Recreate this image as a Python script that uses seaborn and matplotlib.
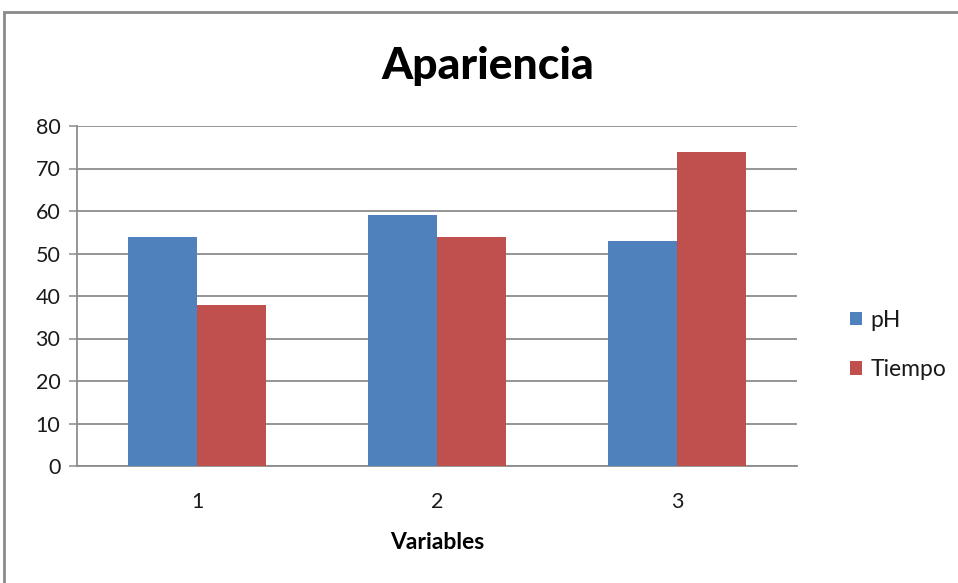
import matplotlib
matplotlib.use("Agg")
import matplotlib.pyplot as plt
from matplotlib.patches import Patch, Rectangle
import seaborn as sns
import pandas as pd

# Data
variables = ["1", "2", "3"]
ph = [54, 59, 53]
tiempo = [38, 54, 74]
series = ["pH", "Tiempo"]
colors = ["#4F81BD", "#C0504D"]
y_ticks = [0, 10, 20, 30, 40, 50, 60, 70, 80]

df = pd.DataFrame({
    "Variable": variables * 2,
    "Serie": ["pH"] * len(variables) + ["Tiempo"] * len(variables),
    "Valor": ph + tiempo,
})

sns.set_style("white")
plt.rcParams["font.family"] = ["Lato", "DejaVu Sans"]

W, H = 958, 583
fig = plt.figure(figsize=(W / 100, H / 100), dpi=100)
ax = fig.add_axes([77 / W, (H - 466) / H, 720 / W, 340 / H])

sns.barplot(data=df, x="Variable", y="Valor", hue="Serie", order=variables,
            hue_order=series, palette=colors, width=0.575, gap=0,
            saturation=1, errorbar=None, ax=ax, legend=False, zorder=3,
            linewidth=0)

grid_col = "#8C8C8C"
text_col = "#1a1a1a"
ax.set_xlim(-0.5, 2.5)
ax.set_ylim(0, 80)
ax.set_yticks(y_ticks)
ax.yaxis.grid(True, color=grid_col, linewidth=1.3, zorder=0)
ax.set_axisbelow(True)
for s in ["top", "right"]:
    ax.spines[s].set_visible(False)
for s in ["left", "bottom"]:
    ax.spines[s].set_color(grid_col)
    ax.spines[s].set_linewidth(1.3)
ax.tick_params(axis="y", direction="out", length=6, width=1.1, color=grid_col,
               labelsize=15.5, labelcolor=text_col, pad=6, left=True)
ax.tick_params(axis="x", length=0, labelsize=15.5, labelcolor=text_col, pad=19)
ax.set_ylabel("")
ax.set_xlabel("Variables", fontsize=16.5, fontweight="bold", color="black",
              labelpad=14)

fig.text(488 / W, 1 - 66 / H, "Apariencia", fontsize=32, fontweight="black",
         color="black", ha="center", va="center")

handles = [Patch(facecolor=c, edgecolor="none") for c in colors]
leg = fig.legend(handles, series, loc="center left",
                 bbox_to_anchor=(829 / W, 1 - 345 / H), frameon=False,
                 fontsize=16.5, handlelength=0.55, handleheight=0.55,
                 handletextpad=0.35, labelspacing=1.25)
for t in leg.get_texts():
    t.set_color(text_col)

# Outer chart frame (partly cropped at right and bottom)
fig.patches.append(Rectangle((4 / W, -0.1), 1.2, 1 - 12.5 / H + 0.1,
                             transform=fig.transFigure, fill=False,
                             edgecolor="#8A8A8A", linewidth=2, clip_on=False))

fig.savefig("out.png", dpi=100)
